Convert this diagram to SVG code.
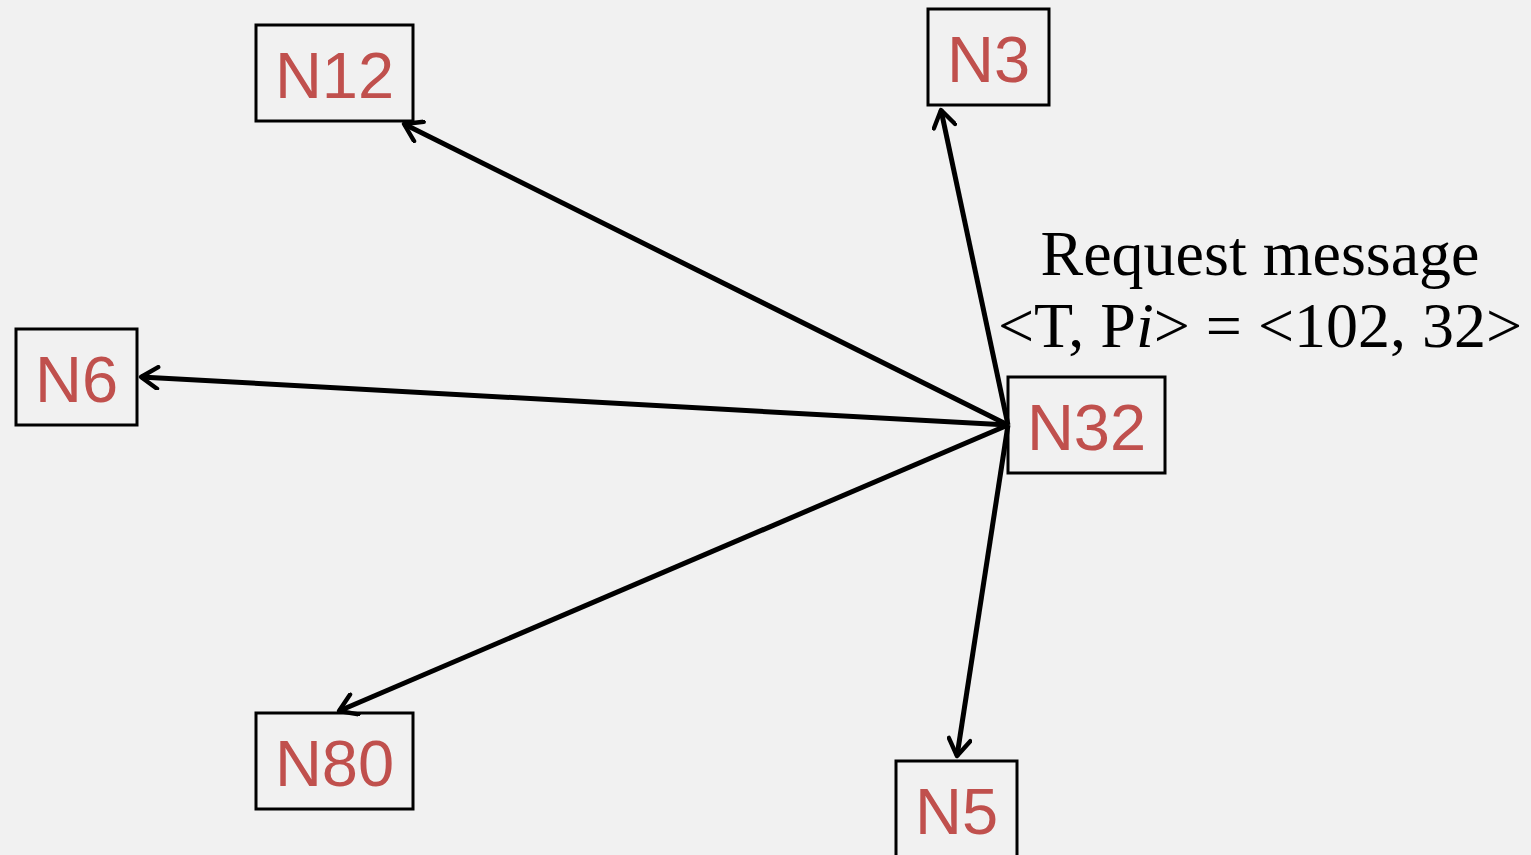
<svg xmlns="http://www.w3.org/2000/svg" width="1531" height="855" viewBox="0 0 1531 855">
<style>
.box{fill:none;stroke:#000;stroke-width:3}
.lbl{font-family:"Liberation Sans",Arial,sans-serif;font-size:65px;fill:#c0504d;text-anchor:middle}
.edge{stroke:#000;stroke-width:5;fill:none;marker-end:url(#arr)}
.note{font-family:"Liberation Serif","Times New Roman",serif;font-size:64px;fill:#000;text-anchor:middle}
</style>
<defs>
<marker id="arr" viewBox="0 0 12 12" refX="10" refY="6" markerWidth="5" markerHeight="5" orient="auto" markerUnits="strokeWidth">
<path d="M2,0.8 L10,6 L2,11.2" fill="none" stroke="#000" stroke-width="2.1" stroke-linecap="round" stroke-linejoin="round"/>
</marker>
</defs>
<rect width="1531" height="855" fill="#f1f1f1"/>
<g id="connectors">
<line class="edge" x1="1008" y1="425" x2="404" y2="124"/>
<line class="edge" x1="1008" y1="425" x2="941" y2="110"/>
<line class="edge" x1="1008" y1="425" x2="141" y2="377"/>
<line class="edge" x1="1008" y1="425" x2="339" y2="711"/>
<line class="edge" x1="1008" y1="425" x2="957" y2="756"/>
</g>
<g id="N12"><rect class="box" x="256" y="25" width="157" height="96"/><text class="lbl" x="334.5" y="98">N12</text></g>
<g id="N3"><rect class="box" x="928" y="9" width="121" height="96"/><text class="lbl" x="988.5" y="82">N3</text></g>
<g id="N32"><rect class="box" x="1008" y="377" width="157" height="96"/><text class="lbl" x="1086.5" y="450">N32</text></g>
<g id="N6"><rect class="box" x="16" y="329" width="121" height="96"/><text class="lbl" x="76.5" y="402">N6</text></g>
<g id="N80"><rect class="box" x="256" y="713" width="157" height="96"/><text class="lbl" x="334.5" y="786">N80</text></g>
<g id="N5"><rect class="box" x="896" y="761" width="121" height="100"/><text class="lbl" x="956.5" y="834">N5</text></g>
<g id="label">
<text class="note" x="1260" y="275">Request message</text>
<text class="note" x="1260" y="347">&lt;T, P<tspan font-style="italic">i</tspan>&gt; = &lt;102, 32&gt;</text>
</g>
</svg>
